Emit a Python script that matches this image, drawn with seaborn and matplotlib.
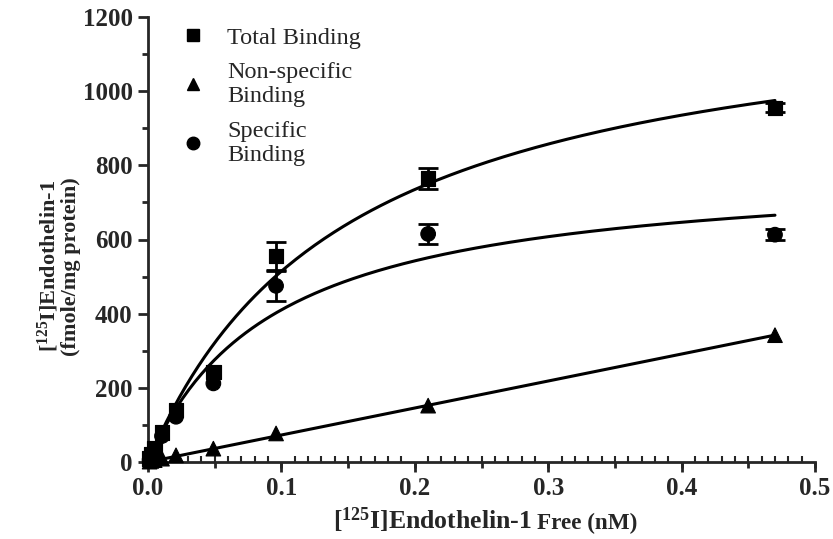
import numpy as np
import pandas as pd
import seaborn as sns
import matplotlib.pyplot as plt
from matplotlib.lines import Line2D
from matplotlib.ticker import MultipleLocator

# free ligand (nM)
free_nm = [0.0012, 0.0025, 0.005, 0.0105, 0.021, 0.049, 0.096, 0.21, 0.47]
total = [10, 22, 38, 80, 140, 243, 555, 765, 955]
total_err = [0, 0, 0, 0, 0, 0, 38, 28, 12]
nonspecific = [1, 3, 5, 9, 18, 36, 77, 152, 342]
specific = [6, 16, 30, 70, 122, 212, 475, 615, 613]
specific_err = [0, 0, 0, 0, 0, 0, 40, 28, 15]

# fitted curve parameters (one-site hyperbola / linear non-specific)
total_bmax, total_kd = 1286, 0.150
spec_bmax, spec_kd = 800, 0.095
ns_slope = 728

sns.set_style("ticks")
plt.rcParams["font.family"] = ["Liberation Serif", "DejaVu Serif"]
plt.rcParams["mathtext.fontset"] = "custom"
plt.rcParams["mathtext.rm"] = "Liberation Serif:bold"
plt.rcParams["mathtext.default"] = "regular"

fig = plt.figure(figsize=(8.33, 5.39), dpi=100)
ax = fig.add_axes([148 / 833, 1 - 462 / 539, (815 - 148) / 833, (462 - 17) / 539])

xs = np.linspace(0, max(free_nm), 200)
curves = pd.DataFrame({
    "x": np.concatenate([xs, xs, xs]),
    "y": np.concatenate([total_bmax * xs / (total_kd + xs),
                         spec_bmax * xs / (spec_kd + xs),
                         ns_slope * xs]),
    "fit": ["total"] * len(xs) + ["specific"] * len(xs) + ["ns"] * len(xs),
})
sns.lineplot(data=curves, x="x", y="y", units="fit", estimator=None,
             color="black", lw=2.2, ax=ax, legend=False)

pts = pd.DataFrame({
    "x": free_nm * 3,
    "y": total + nonspecific + specific,
    "kind": ["Total Binding"] * 9 + ["Non-specific\nBinding"] * 9 + ["Specific\nBinding"] * 9,
})
markers = {"Total Binding": "s", "Non-specific\nBinding": "^", "Specific\nBinding": "o"}
sns.scatterplot(data=pts, x="x", y="y", style="kind", markers=markers,
                color="black", s=110, edgecolor="black", ax=ax, legend=False,
                clip_on=False, zorder=3)

x_arr = np.array(free_nm)
for vals, errs in [(total, total_err), (specific, specific_err)]:
    errs = np.array(errs)
    m = errs > 0
    ax.errorbar(x_arr[m], np.array(vals)[m], yerr=errs[m], fmt="none",
                ecolor="black", elinewidth=2, capsize=7, capthick=2, zorder=2)

ax.set_xlim(0, 0.5)
ax.set_ylim(0, 1200)
ax.xaxis.set_minor_locator(MultipleLocator(0.01))
ax.yaxis.set_major_locator(MultipleLocator(200))
ax.yaxis.set_minor_locator(MultipleLocator(100))
ax.set_xticks(np.arange(0, 0.51, 0.1))
ax.set_xticklabels([f"{v:.1f}" for v in np.arange(0, 0.51, 0.1)])
ax.tick_params(axis="both", which="major", length=7, width=2, labelsize=18, pad=4)
ax.tick_params(axis="x", which="minor", direction="in", length=4, width=1.5)
ax.tick_params(axis="y", which="minor", length=4, width=2)
for lab in ax.get_xticklabels() + ax.get_yticklabels():
    lab.set_fontweight("bold")

# half-way ticks on the x axis
sec = ax.secondary_xaxis("bottom")
sec.xaxis.set_major_locator(MultipleLocator(0.05))
sec.tick_params(length=4, width=2, labelbottom=False)
sec.spines["bottom"].set_visible(False)

sns.despine(ax=ax)
for side in ["left", "bottom"]:
    ax.spines[side].set_linewidth(2)

ax.set_xlabel("")
ax.set_ylabel("[$^{125}$I]Endothelin-1\n(fmole/mg protein)", fontsize=16,
              fontweight="bold", labelpad=1, linespacing=1.05)
ax.yaxis.label.set_y(0.44)

y_base = 1 - 529 / 539
fig.text(532 / 833, y_base, "[$^{125}$I]Endothelin-1", ha="right", va="baseline",
         fontsize=18.5, fontweight="bold")
fig.text(537 / 833, y_base, "Free (nM)", ha="left", va="baseline",
         fontsize=16.7, fontweight="bold")

handles = [Line2D([], [], ls="none", marker=markers[k], color="black", markersize=9)
           for k in markers]
ax.legend(handles, list(markers), loc="upper left", bbox_to_anchor=(0.008, 1.027),
          frameon=False, fontsize=17.5, handletextpad=0.65, labelspacing=0.55,
          handlelength=1.5)

fig.savefig("out.png", dpi=100)
